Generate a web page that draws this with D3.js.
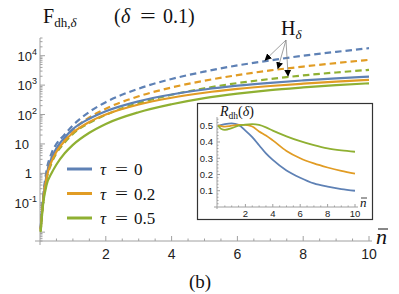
<!DOCTYPE html>
<html>
<head>
  <meta charset="utf-8">
  <title></title>
  <script src="https://cdn.jsdelivr.net/npm/d3@7"></script>
  <style>
    body,html{
      margin:0;
      padding:0;
      background:#fff;
    }
    svg{display:block;}
    .tl{font-family:"Liberation Sans", Arial, sans-serif; fill:#222;}
    .m{font-family:"Liberation Serif", "Times New Roman", serif; fill:#111;}
  </style>
</head>
<body>
  <div id="container"></div>
  <script>

    // main plot: F(nbar) for the three tau values, solid = F_dh, dashed = H_delta
    var nbar = [0.02, 0.1, 0.2, 0.35, 0.5, 0.75, 1, 1.5, 2, 3, 4, 5, 6, 7, 8, 9, 10];
    var fTau0  = [0.014, 0.14, 0.89, 3.3, 7.1, 16.6, 32, 72, 129, 282, 479, 708, 955, 1200, 1445, 1700, 1950];
    var fTau02 = [0.0126, 0.12, 0.71, 2.5, 5.4, 12.6, 24, 56, 100, 219, 372, 550, 741, 933, 1122, 1318, 1514];
    var fTau05 = [0.011, 0.10, 0.40, 1.0, 2.0, 4.8, 9.3, 24, 48, 120, 224, 363, 513, 676, 832, 1000, 1148];
    var hTau0  = [0.0126, 0.18, 1.26, 4.8, 10, 21, 43, 123, 263, 760, 1620, 2880, 4680, 6920, 10000, 13500, 18000];
    var hTau02 = [0.011, 0.14, 0.89, 3.3, 6.8, 14.8, 30, 79, 158, 417, 832, 1413, 2188, 3162, 4266, 5623, 7244];
    var hTau05 = [0.010, 0.11, 0.63, 2.2, 4.8, 11.2, 22, 52, 98, 245, 470, 780, 1170, 1620, 2140, 2690, 3310];

    var tauLabels = ['0', '0.2', '0.5'];
    var colors = ['#5e81b5', '#e19c24', '#8fb032'];

    var yTickExp = [-1, 0, 1, 2, 3, 4];
    var xTicks = [2, 4, 6, 8, 10];

    // inset: R_dh(delta)
    var rN     = [0, 0.25, 0.5, 1, 1.5, 2, 2.5, 3, 3.5, 4, 5, 6, 7, 8, 9, 10];
    var rTau0  = [0.50, 0.505, 0.51, 0.515, 0.505, 0.47, 0.43, 0.38, 0.33, 0.29, 0.225, 0.18, 0.145, 0.125, 0.11, 0.10];
    var rTau02 = [0.50, 0.497, 0.495, 0.50, 0.505, 0.505, 0.495, 0.465, 0.44, 0.41, 0.345, 0.30, 0.268, 0.243, 0.222, 0.205];
    var rTau05 = [0.50, 0.48, 0.475, 0.485, 0.50, 0.507, 0.51, 0.505, 0.49, 0.47, 0.435, 0.405, 0.38, 0.36, 0.348, 0.34];
    var rTicks = [0.1, 0.2, 0.3, 0.4, 0.5];

    // where the H_delta arrows land
    var arrowN = [6.84, 7.23, 7.54];

    var W = 399, H = 294;
    var axisCol = '#a0a0a0';

    var svg = d3.select('#container').append('svg').attr('width', W).attr('height', H);

    var x = d3.scaleLinear().domain([0, 10]).range([40, 369]);
    var y = d3.scaleLog().domain([0.005, 40000]).range([241, 38]);

    var solids = [fTau0, fTau02, fTau05];
    var dashes = [hTau0, hTau02, hTau05];

    var line = d3.line()
      .x(function(d){ return x(d[0]); })
      .y(function(d){ return y(d[1]); })
      .curve(d3.curveMonotoneX);

    var g = svg.append('g');

    // axes
    g.append('line').attr('x1', 35).attr('x2', 372).attr('y1', 241).attr('y2', 241)
      .attr('stroke', axisCol).attr('stroke-width', 1);
    g.append('line').attr('x1', 40).attr('x2', 40).attr('y1', 38).attr('y2', 245)
      .attr('stroke', axisCol).attr('stroke-width', 1);

    // x ticks
    d3.range(0.5, 10.01, 0.5).forEach(function(v){
      var major = Math.abs(v/2 - Math.round(v/2)) < 1e-6;
      g.append('line').attr('x1', x(v)).attr('x2', x(v)).attr('y1', 241).attr('y2', 241 - (major ? 5 : 2.5))
        .attr('stroke', axisCol);
    });
    g.selectAll('.xl').data(xTicks).enter().append('text')
      .attr('class', 'tl').attr('x', function(d){ return x(d); }).attr('y', 259)
      .attr('text-anchor', 'middle').attr('font-size', 14)
      .text(function(d){ return d; });

    // y ticks (log, with minors)
    for(var e = -3; e <= 4; e++){
      for(var k = 1; k <= 9; k++){
        var v = k * Math.pow(10, e);
        if(v < 0.005 || v > 40000) continue;
        g.append('line').attr('x1', 40).attr('x2', 40 + (k === 1 ? 5 : 2.5))
          .attr('y1', y(v)).attr('y2', y(v)).attr('stroke', axisCol);
      }
    }
    yTickExp.forEach(function(e){
      var t = g.append('text').attr('class', 'tl').attr('font-size', 13)
        .attr('y', y(Math.pow(10, e)) + 5).attr('text-anchor', 'end');
      if(e === 0){
        t.attr('x', 32).text('1');
      } else if(e === 1){
        t.attr('x', 29).text('10');
      } else {
        t.attr('x', 37);
        t.append('tspan').text('10');
        t.append('tspan').attr('font-size', 9).attr('dy', -6).text(e);
      }
    });

    // curves
    var curves = g.append('g');
    dashes.forEach(function(s, i){
      curves.append('path')
        .attr('d', line(nbar.map(function(n, j){ return [n, s[j]]; })))
        .attr('fill', 'none').attr('stroke', colors[i]).attr('stroke-width', 2.2)
        .attr('stroke-dasharray', '6.5,4');
    });
    solids.forEach(function(s, i){
      curves.append('path')
        .attr('d', line(nbar.map(function(n, j){ return [n, s[j]]; })))
        .attr('fill', 'none').attr('stroke', colors[i]).attr('stroke-width', 2.2);
    });

    // title
    var title = svg.append('text').attr('class', 'm').attr('x', 43).attr('y', 23).attr('font-size', 20);
    title.append('tspan').text('F');
    title.append('tspan').attr('font-size', 13).attr('dy', 4).text('dh,');
    title.append('tspan').attr('font-size', 13).attr('font-style', 'italic').text('δ');
    svg.append('text').attr('class', 'm').attr('x', 114).attr('y', 23).attr('font-size', 20).text('(');
    svg.append('text').attr('class', 'm').attr('x', 121).attr('y', 23).attr('font-size', 20).attr('font-style', 'italic').text('δ');
    svg.append('text').attr('class', 'm').attr('x', 140).attr('y', 23).attr('font-size', 20).attr('transform', 'translate(140,0) scale(1.4,1) translate(-140,0)').text('=');
    svg.append('text').attr('class', 'm').attr('x', 163).attr('y', 23).attr('font-size', 20).text('0.1)');

    // H_delta annotation
    var hl = svg.append('text').attr('class', 'm').attr('x', 281).attr('y', 35).attr('font-size', 20);
    hl.append('tspan').text('H');
    hl.append('tspan').attr('font-size', 13).attr('font-style', 'italic').attr('dy', 4).text('δ');

    var defs = svg.append('defs');
    defs.append('marker').attr('id', 'arr').attr('viewBox', '0 0 10 10').attr('refX', 9).attr('refY', 5)
      .attr('markerWidth', 7).attr('markerHeight', 7).attr('markerUnits', 'userSpaceOnUse').attr('orient', 'auto')
      .append('path').attr('d', 'M0,0L10,5L0,10z').attr('fill', '#000');

    function interpLog(arr, n){
      var i = d3.bisectRight(nbar, n) - 1;
      var t = (n - nbar[i]) / (nbar[i+1] - nbar[i]);
      return Math.pow(10, Math.log10(arr[i]) * (1 - t) + Math.log10(arr[i+1]) * t);
    }
    arrowN.forEach(function(n, i){
      svg.append('line').attr('x1', 286).attr('y1', 40)
        .attr('x2', x(n)).attr('y2', y(interpLog(dashes[i], n)) - 1)
        .attr('stroke', '#888').attr('stroke-width', 0.8).attr('marker-end', 'url(#arr)');
    });

    // legend
    var leg = svg.append('g');
    tauLabels.forEach(function(lab, i){
      var ly = 169 + i * 24.5;
      leg.append('line').attr('x1', 67).attr('x2', 92).attr('y1', ly).attr('y2', ly)
        .attr('stroke', colors[i]).attr('stroke-width', 3);
      leg.append('text').attr('class', 'm').attr('x', 100).attr('y', ly + 6).attr('font-size', 17)
        .attr('font-style', 'italic').text('τ');
      leg.append('text').attr('class', 'm').attr('x', 115).attr('y', ly + 6).attr('font-size', 17)
        .attr('transform', 'translate(115,0) scale(1.35,1) translate(-115,0)').text('=');
      leg.append('text').attr('class', 'm').attr('x', 134).attr('y', ly + 6).attr('font-size', 17).text(lab);
    });

    // nbar label for main axis
    svg.append('text').attr('class', 'm').attr('x', 376).attr('y', 244).attr('font-size', 22)
      .attr('font-style', 'italic').text('n');
    svg.append('line').attr('x1', 378).attr('x2', 388).attr('y1', 229).attr('y2', 229)
      .attr('stroke', '#111').attr('stroke-width', 1);

    // (b)
    svg.append('text').attr('class', 'm').attr('x', 200).attr('y', 288).attr('font-size', 19)
      .attr('text-anchor', 'middle').text('(b)');

    // inset
    var ix = d3.scaleLinear().domain([0, 10]).range([218, 355]);
    var iy = d3.scaleLinear().domain([0, 0.55]).range([207, 117.6]);
    var ins = svg.append('g');
    ins.append('rect').attr('x', 197.5).attr('y', 103.5).attr('width', 175).attr('height', 116)
      .attr('fill', '#fff').attr('stroke', '#333').attr('stroke-width', 1.2);

    ins.append('line').attr('x1', 214).attr('x2', 358).attr('y1', 207).attr('y2', 207).attr('stroke', axisCol);
    ins.append('line').attr('x1', 217).attr('x2', 217).attr('y1', 117).attr('y2', 209).attr('stroke', axisCol);

    d3.range(0.5, 10.01, 0.5).forEach(function(v){
      var major = Math.abs(v/2 - Math.round(v/2)) < 1e-6;
      ins.append('line').attr('x1', ix(v)).attr('x2', ix(v)).attr('y1', 207).attr('y2', 207 - (major ? 3 : 1.5))
        .attr('stroke', axisCol);
    });
    d3.range(0.02, 0.55, 0.02).forEach(function(v){
      var major = Math.abs(v*10 - Math.round(v*10)) < 1e-6;
      ins.append('line').attr('x1', 217).attr('x2', 217 + (major ? 3 : 1.5)).attr('y1', iy(v)).attr('y2', iy(v))
        .attr('stroke', axisCol);
    });
    ins.selectAll('.ixl').data(xTicks).enter().append('text')
      .attr('class', 'tl').attr('font-size', 9.5).attr('text-anchor', 'middle')
      .attr('x', function(d){ return ix(d); }).attr('y', 217)
      .text(function(d){ return d; });
    ins.selectAll('.iyl').data(rTicks).enter().append('text')
      .attr('class', 'tl').attr('font-size', 9.5).attr('text-anchor', 'end')
      .attr('x', 213).attr('y', function(d){ return iy(d) + 3.5; })
      .text(function(d){ return d.toFixed(1); });

    var iline = d3.line()
      .x(function(d){ return ix(d[0]); })
      .y(function(d){ return iy(d[1]); })
      .curve(d3.curveMonotoneX);
    [rTau0, rTau02, rTau05].forEach(function(s, i){
      ins.append('path')
        .attr('d', iline(rN.map(function(n, j){ return [n, s[j]]; })))
        .attr('fill', 'none').attr('stroke', colors[i]).attr('stroke-width', 1.8);
    });

    var rt = ins.append('text').attr('class', 'm').attr('x', 220).attr('y', 116).attr('font-size', 14);
    rt.append('tspan').attr('font-style', 'italic').text('R');
    rt.append('tspan').attr('font-size', 9.5).attr('dy', 3).text('dh');
    rt.append('tspan').attr('dy', -3).text('(');
    rt.append('tspan').attr('font-style', 'italic').text('δ');
    rt.append('tspan').text(')');

    ins.append('text').attr('class', 'm').attr('x', 360).attr('y', 207).attr('font-size', 13)
      .attr('font-style', 'italic').text('n');
    ins.append('line').attr('x1', 361).attr('x2', 367).attr('y1', 198).attr('y2', 198)
      .attr('stroke', '#111').attr('stroke-width', 0.8);

  </script>
</body>
</html>
